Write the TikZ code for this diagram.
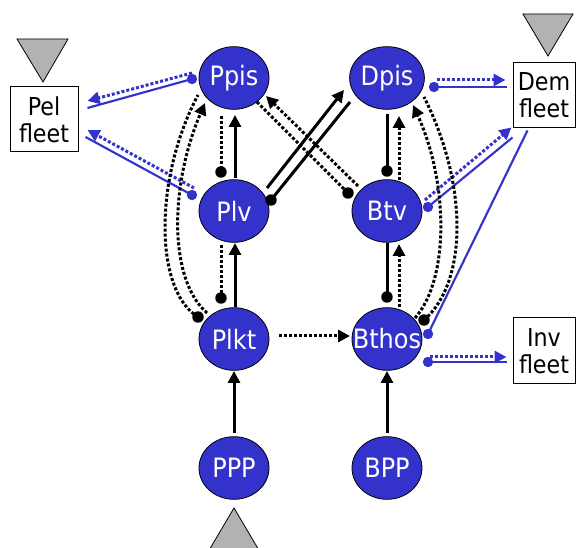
\documentclass[tikz,border=0pt]{standalone}
\usepackage{fontspec}
\setmainfont{DejaVu Sans Condensed}
\usetikzlibrary{arrows.meta,calc,shapes.geometric}
\definecolor{nblue}{RGB}{51,51,204}
\definecolor{tgrey}{RGB}{178,178,178}
\begin{document}
\begin{tikzpicture}[x=0.75pt,y=-0.75pt,
  st/.style={ellipse, draw=black, line width=0.6pt, fill=nblue, text=white,
    minimum width=52.5pt, minimum height=47pt, inner sep=0pt,
    font=\fontsize{20}{22}\selectfont},
  fleet/.style={draw=black, line width=0.75pt, fill=white, align=center,
    inner sep=0pt, minimum height=48.75pt, font=\fontsize{18.5}{20.5}\selectfont},
  tri/.style={draw=black, line width=0.6pt, fill=tgrey},
  ksol/.style={draw=black, line width=2.25pt},
  kdot/.style={draw=black, line width=2.25pt, dash pattern=on 2.25pt off 1.5pt},
  bsol/.style={draw=nblue, line width=1.6pt},
  bdot/.style={draw=nblue, line width=2.25pt, dash pattern=on 2.25pt off 1.5pt},
  tipk/.style={-{Triangle[length=9pt,width=9pt]}},
  tipb/.style={-{Triangle[length=9pt,width=9pt,color=nblue]}},
]
\useasboundingbox (0,0) rectangle (576,548);

% triangles
\draw[tri] (17,39) -- (68,39) -- (43,82) -- cycle;
\draw[tri] (523,14) -- (573,14) -- (548,56) -- cycle;
\draw[tri] (234,508) -- (260,552) -- (208,552) -- cycle;

% nodes
\node[st] (Ppis) at (234,78) {Ppis};
\node[st] (Plv) at (234,211) {Plv};
\node[st] (Plkt) at (234,339) {Plkt};
\node[st] (PPP) at (234,468) {PPP};
\node[st] (Dpis) at (387,78) {Dpis};
\node[st] (Btv) at (387,211) {Btv};
\node[st] (Bthos) at (387,339) {\makebox[0pt]{Bthos}};
\node[st] (BPP) at (387,468) {BPP};

\node[fleet, minimum width=51pt] (Pel) at (44,119.5) {Pel\\fleet};
\node[fleet, minimum width=46.5pt] (Dem) at (544,95.5) {Dem\\fleet};
\node[fleet, minimum width=46.5pt, minimum height=49.5pt] (Inv) at (544,351) {Inv\\fleet};

% blue connectors
\coordinate (b1) at ($(Ppis)+(-42,1)$);
\draw[bsol] (b1) -- ($(Pel.east)+(9,-11.5)$);
\fill[nblue] (b1) circle (3.9pt);
\draw[bdot,tipb] ($(Ppis)+(-42,-5)$) -- ($(Pel.east)+(9,-18.5)$);

\coordinate (b2) at ($(Plv)+(-42,-16)$);
\draw[bsol] (b2) -- ($(Pel.east)+(7,17.5)$);
\fill[nblue] (b2) circle (3.9pt);
\draw[bdot,tipb] ($(Plv)+(-40,-23)$) -- ($(Pel.east)+(9,10.5)$);

\coordinate (b3) at ($(Dpis)+(47,9)$);
\draw[bsol] (b3) -- ($(Dem.west)+(-6,-8.5)$);
\fill[nblue] (b3) circle (3.9pt);
\draw[bdot,tipb] ($(Dpis)+(50,2)$) -- ($(Dem.west)+(-7,-15.5)$);

\coordinate (b4) at ($(Btv)+(41,-4)$);
\draw[bsol] (b4) -- ($(Dem.south west)+(0,9)$);
\fill[nblue] (b4) circle (3.9pt);
\draw[bdot,tipb] ($(Btv)+(38,-11)$) -- ($(Dem.south west)+(-1,-1)$);

\coordinate (b5) at ($(Bthos)+(41,-5)$);
\draw[bsol] ($(Dem.south west)+(15,2)$) -- (b5);
\fill[nblue] (b5) circle (3.9pt);

\coordinate (b6) at ($(Bthos)+(41,23)$);
\draw[bsol] (b6) -- ($(Inv.west)+(-6,11)$);
\fill[nblue] (b6) circle (3.9pt);
\draw[bdot,tipb] ($(Bthos)+(43,18)$) -- ($(Inv.west)+(-6,6)$);

% vertical black connectors, left column
\draw[ksol,tipk] ($(Plv)+(1,-33)$) -- ($(Ppis)+(1,37)$);
\coordinate (k1) at ($(Plv)+(-13,-39)$);
\draw[kdot] ($(Ppis)+(-13,38)$) -- (k1);
\fill (k1) circle (4.3pt);

\draw[ksol,tipk] ($(Plkt)+(1,-32)$) -- ($(Plv)+(1,32)$);
\coordinate (k2) at ($(Plkt)+(-13,-41)$);
\draw[kdot] ($(Plv)+(-13,34)$) -- (k2);
\fill (k2) circle (4.3pt);

% vertical black connectors, right column
\coordinate (k3) at ($(Btv)+(0,-40)$);
\draw[ksol] ($(Dpis)+(0,36)$) -- (k3);
\fill (k3) circle (4.3pt);
\draw[kdot,tipk] ($(Btv)+(12,-31)$) -- ($(Dpis)+(12,38)$);

\coordinate (k4) at ($(Bthos)+(0,-42)$);
\draw[ksol] ($(Btv)+(0,32)$) -- (k4);
\fill (k4) circle (4.3pt);
\draw[kdot,tipk] ($(Bthos)+(12,-32)$) -- ($(Btv)+(12,33)$);

% bottom
\draw[ksol,tipk] ($(PPP)+(0,-35)$) -- ($(Plkt)+(0,32)$);
\draw[ksol,tipk] ($(BPP)+(0,-35)$) -- ($(Bthos)+(0,32)$);
\draw[kdot,tipk] ($(Plkt)+(45,-3)$) -- ($(Bthos)+(-37,-3)$);

% crossing connectors
\draw[ksol,tipk] ($(Plv)+(33,-23)$) -- ($(Dpis)+(-43,12)$);
\coordinate (k5) at ($(Plv)+(37,-11)$);
\draw[ksol] (k5) -- ($(Dpis)+(-37,24)$);
\fill (k5) circle (4.3pt);

\draw[kdot,tipk] ($(Btv)+(-29,-25)$) -- ($(Ppis)+(32,18)$);
\coordinate (k6) at ($(Btv)+(-39,-18)$);
\draw[kdot] ($(Ppis)+(23,24)$) -- (k6);
\fill (k6) circle (4.3pt);

% curved connectors
\coordinate (k7) at ($(Plkt)+(-36,-22)$);
\draw[kdot] (k7) .. controls ($(Plv)+(-80,79)$) and ($(Plv)+(-80,-33)$) .. ($(Ppis)+(-36,17)$);
\fill (k7) circle (4.3pt);
\draw[kdot,tipk] ($(Plkt)+(-27,-26)$) .. controls ($(Plv)+(-65,69)$) and ($(Plv)+(-65,-24)$) .. ($(Ppis)+(-29,25)$);

\draw[kdot,tipk] ($(Bthos)+(28,-21)$) .. controls ($(Btv)+(62,69)$) and ($(Btv)+(62,-27)$) .. ($(Dpis)+(26,27)$);
\coordinate (k8) at ($(Bthos)+(37,-19)$);
\draw[kdot] (k8) .. controls ($(Btv)+(81,71)$) and ($(Btv)+(81,-27)$) .. ($(Dpis)+(37,19)$);
\fill (k8) circle (4.3pt);
\end{tikzpicture}
\end{document}
